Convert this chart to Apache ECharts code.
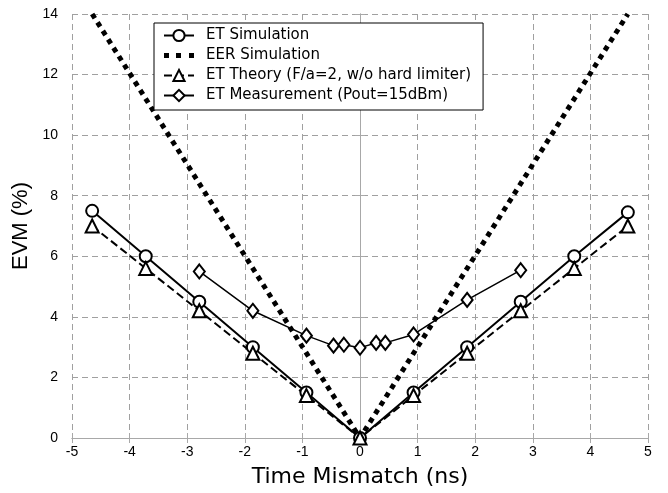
<!DOCTYPE html>
<html>
<head>
<meta charset="utf-8">
<script src="https://cdn.jsdelivr.net/npm/echarts@6/dist/echarts.min.js"></script>
<style>
  html, body { margin: 0; padding: 0; background: #fff; }
  #main { width: 668px; height: 493px; }
</style>
</head>
<body>
<div id="main"></div>
<script>
// time mismatch (ns) for the simulation / theory points
var tSim = [-4.65, -3.72, -2.79, -1.86, -0.93, 0, 0.93, 1.86, 2.79, 3.72, 4.65];
var evmEtSim = [7.5, 6.0, 4.5, 3.0, 1.5, 0, 1.5, 3.0, 4.5, 6.0, 7.45];
var evmEtTheory = [7.0, 5.6, 4.2, 2.8, 1.4, 0, 1.4, 2.8, 4.2, 5.6, 7.0];

// EER simulation (straight V)
var tEer = [-4.65, 0, 4.65];
var evmEer = [14, 0, 14];

// measurement
var tMeas = [-2.79, -1.86, -0.93, -0.46, -0.28, 0, 0.28, 0.44, 0.93, 1.86, 2.79];
var evmMeas = [5.5, 4.2, 3.38, 3.05, 3.08, 2.98, 3.14, 3.14, 3.42, 4.56, 5.54];

var seriesNames = [
  'ET Simulation',
  'EER Simulation',
  'ET Theory (F/a=2, w/o hard limiter)',
  'ET Measurement (Pout=15dBm)'
];

function pairs(xs, ys) {
  var res = [];
  for (var i = 0; i < xs.length; i++) {
    res.push([xs[i], ys[i]]);
  }
  return res;
}

var font = 'Arial, "Liberation Sans", sans-serif';
var wideFont = '"DejaVu Sans", sans-serif';
var frameColor = '#a8a8a8';
// three square dots for the EER legend icon
var dotsIcon = 'path://M0,0h5v5h-5zM12,0h5v5h-5zM25,0h5v5h-5z';

var myChart = echarts.init(document.getElementById('main'));

var option = {
  backgroundColor: '#fff',
  animation: false,
  grid: { left: 72, right: 20, top: 14, bottom: 54 },
  legend: {
    orient: 'vertical',
    left: 154,
    top: 23,
    padding: [5, 12, 7, 9],
    itemGap: 5,
    itemWidth: 30,
    itemHeight: 14,
    backgroundColor: '#fff',
    borderColor: '#000',
    borderWidth: 1,
    borderRadius: 0,
    textStyle: { fontFamily: wideFont, fontSize: 15, color: '#000', padding: [0, 0, 0, 7] },
    data: [
      { name: seriesNames[0] },
      { name: seriesNames[1], icon: dotsIcon },
      { name: seriesNames[2] },
      { name: seriesNames[3] }
    ]
  },
  xAxis: [{
    type: 'value',
    min: -5, max: 5, interval: 1,
    name: 'Time Mismatch (ns)',
    nameLocation: 'middle',
    nameGap: 28,
    nameTextStyle: { fontFamily: wideFont, fontSize: 22, color: '#000', verticalAlign: 'top' },
    axisLine: { show: true, lineStyle: { color: frameColor, width: 1 } },
    axisTick: { show: true, inside: true, length: 5, lineStyle: { color: frameColor } },
    axisLabel: { fontFamily: font, fontSize: 14, color: '#000', margin: 7 },
    splitLine: { show: true, lineStyle: { color: '#a0a0a0', type: [6, 4], width: 1 } }
  }, {
    type: 'value',
    position: 'top',
    min: -5, max: 5, interval: 1,
    axisLine: { show: true, lineStyle: { color: frameColor, width: 1 } },
    axisTick: { show: true, inside: true, length: 5, lineStyle: { color: frameColor } },
    axisLabel: { show: false },
    splitLine: { show: false }
  }],
  yAxis: [{
    type: 'value',
    min: 0, max: 14, interval: 2,
    name: 'EVM (%)',
    nameLocation: 'middle',
    nameGap: 32,
    nameTextStyle: { fontFamily: font, fontSize: 22, color: '#000' },
    axisLine: { show: true, lineStyle: { color: frameColor, width: 1 } },
    axisTick: { show: true, inside: true, length: 5, lineStyle: { color: frameColor } },
    axisLabel: { fontFamily: font, fontSize: 14, color: '#000', margin: 14 },
    splitLine: { show: true, lineStyle: { color: '#a0a0a0', type: [6, 4], width: 1 } }
  }, {
    type: 'value',
    position: 'right',
    min: 0, max: 14, interval: 2,
    axisLine: { show: true, lineStyle: { color: frameColor, width: 1 } },
    axisTick: { show: true, inside: true, length: 5, lineStyle: { color: frameColor } },
    axisLabel: { show: false },
    splitLine: { show: false }
  }],
  series: [{
    name: seriesNames[1],
    type: 'line',
    symbol: 'none',
    z: 2,
    lineStyle: { color: '#000', width: 5, type: [5, 5], cap: 'butt' },
    itemStyle: { color: '#000' },
    data: pairs(tEer, evmEer)
  }, {
    name: seriesNames[0],
    type: 'line',
    symbol: 'emptyCircle',
    symbolSize: 12,
    z: 3,
    lineStyle: { color: '#000', width: 2 },
    itemStyle: { color: '#000', borderWidth: 2 },
    data: pairs(tSim, evmEtSim)
  }, {
    name: seriesNames[2],
    type: 'line',
    symbol: 'emptyTriangle',
    symbolSize: 13,
    z: 3,
    lineStyle: { color: '#000', width: 2, type: [8, 4] },
    itemStyle: { color: '#000', borderWidth: 2 },
    data: pairs(tSim, evmEtTheory)
  }, {
    name: seriesNames[3],
    type: 'line',
    symbol: 'emptyDiamond',
    symbolSize: [11, 14],
    z: 3,
    lineStyle: { color: '#000', width: 1.5 },
    itemStyle: { color: '#000', borderWidth: 1.5 },
    data: pairs(tMeas, evmMeas)
  }]
};

myChart.setOption(option);
</script>
</body>
</html>
